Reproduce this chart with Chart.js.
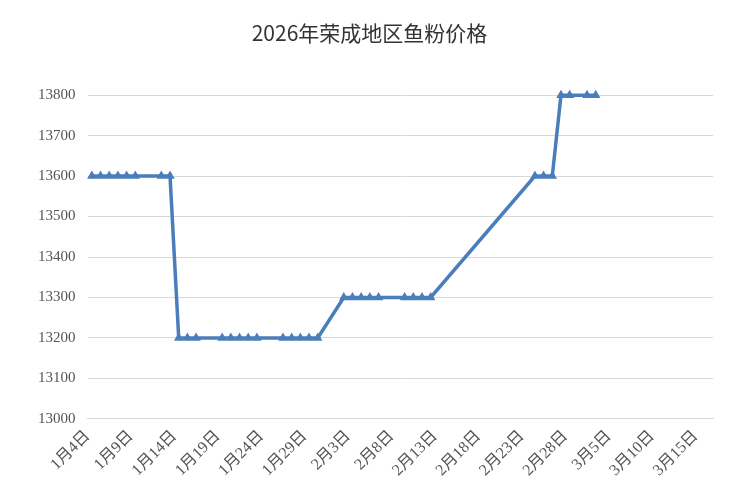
<!DOCTYPE html>
<html><head><meta charset="utf-8">
<script src="https://cdn.jsdelivr.net/npm/chart.js@4"></script>
<style>html,body{margin:0;padding:0;background:#fff}#w{width:744px;height:500px;position:relative}</style>
</head><body><div id="w"><canvas id="c"></canvas></div>
<script>
const title = "2026年荣成地区鱼粉价格";
const dates = ["1-4","1-5","1-6","1-7","1-8","1-9","1-12","1-13","1-14","1-15","1-16",
 "1-19","1-20","1-21","1-22","1-23","1-26","1-27","1-28","1-29","1-30",
 "2-2","2-3","2-4","2-5","2-6","2-9","2-10","2-11","2-12",
 "2-24","2-25","2-26","2-27","2-28","3-2","3-3"];
const prices = [13600,13600,13600,13600,13600,13600,13600,13600,13200,13200,13200,
 13200,13200,13200,13200,13200,13200,13200,13200,13200,13200,
 13300,13300,13300,13300,13300,13300,13300,13300,13300,
 13600,13600,13600,13800,13800,13800,13800];
const yTicks = [13000,13100,13200,13300,13400,13500,13600,13700,13800];
const startDate = "1-4", endDate = "3-15", tickStepDays = 5;

function dayIdx(s){const [m,d]=s.split("-").map(Number);return Math.round((Date.UTC(2026,m-1,d)-Date.UTC(2026,0,4))/86400000);}
function label(n){const t=new Date(Date.UTC(2026,0,4)+n*86400000);return (t.getUTCMonth()+1)+"月"+t.getUTCDate()+"日";}
const pts = dates.map((s,i)=>({x:dayIdx(s)+0.5,y:prices[i]}));
const blue="#4a7ebb";
const serif="'Liberation Serif', 'Noto Sans CJK SC'";
const lastTick=dayIdx(endDate);
Promise.all([document.fonts.load("14px 'Liberation Serif'"),document.fonts.load("22px 'Noto Sans CJK SC'")]).catch(()=>{}).then(()=>{
new Chart(document.getElementById("c"),{
 type:"line",
 data:{datasets:[{data:pts,borderColor:blue,backgroundColor:blue,borderWidth:3.5,pointStyle:"triangle",pointRadius:5.5,pointBorderWidth:0,tension:0,clip:false}]},
 options:{responsive:true,maintainAspectRatio:false,animation:false,
  layout:{padding:{left:26,right:31,top:14,bottom:18}},
  plugins:{legend:{display:false},tooltip:{enabled:false},
   title:{display:true,text:title,color:"#333",font:{family:"'Noto Sans CJK SC'",size:21,weight:"normal"},padding:{top:6,bottom:50}}},
  scales:{
   x:{type:"linear",min:dayIdx(startDate),max:lastTick+2,
    afterBuildTicks:a=>{a.ticks=[];for(let v=a.min;v<=lastTick;v+=tickStepDays)a.ticks.push({value:v});},
    ticks:{callback:v=>label(v),maxRotation:45,minRotation:45,color:"#555",font:{family:serif,size:16},padding:2},
    grid:{display:false,drawTicks:true,tickLength:6,tickColor:"#d9d9d9"},border:{color:"#d9d9d9"}},
   y:{min:13000,max:13800,
    afterBuildTicks:a=>{a.ticks=yTicks.map(v=>({value:v}));},
    ticks:{callback:v=>String(v),color:"#555",font:{family:serif,size:15},padding:12},
    grid:{color:"#d9d9d9",drawTicks:false},border:{display:false}}
  }}
});
});
</script></body></html>
